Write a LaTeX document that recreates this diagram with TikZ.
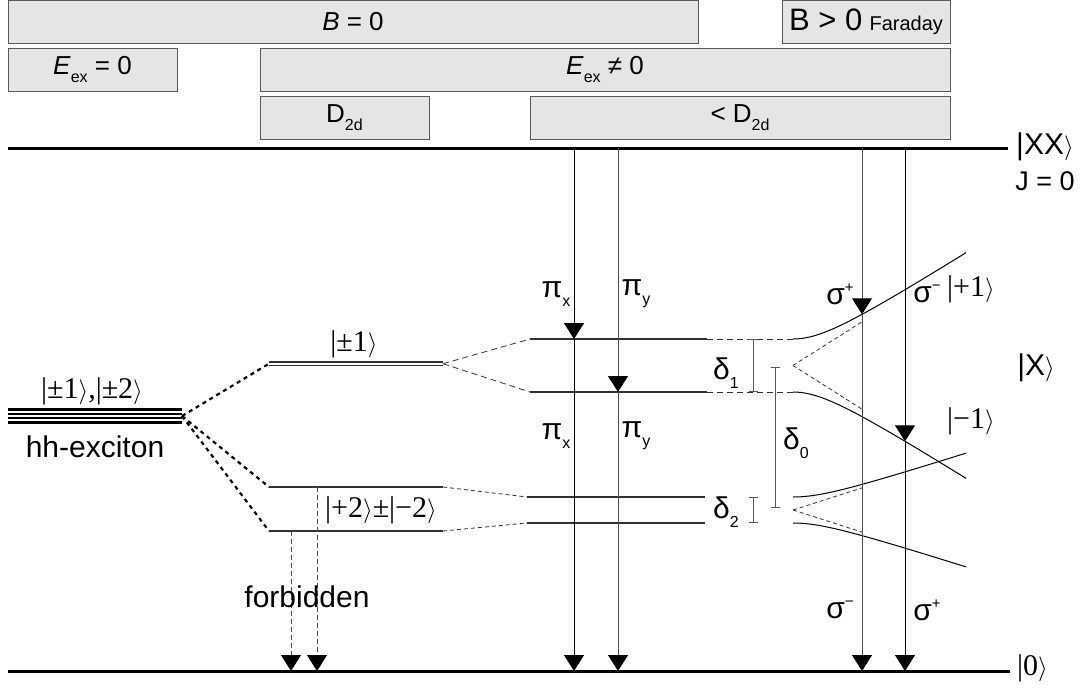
\documentclass[tikz,border=0pt]{standalone}
\usepackage{fontspec}
\setmainfont{Liberation Sans}
\newfontfamily\serifket{Liberation Serif}
\usetikzlibrary{arrows.meta}
\newcommand\lowtxt[1]{\raisebox{-0.55ex}{\fontsize{16}{16}\selectfont #1}}
\newcommand\hightxt[1]{\raisebox{0.75ex}{\fontsize{15}{15}\selectfont #1}}
\newcommand\myket[1]{{\serifket|#1}$\rangle$}
\tikzset{
  every node/.style={font=\fontsize{30}{34}\selectfont, inner sep=0pt},
  hdrbox/.style={draw=black!65, fill=black!10, line width=1pt, minimum height=43pt, font=\fontsize{26}{30}\selectfont},
  thickline/.style={line width=3pt},
  level/.style={line width=1.1pt, draw=black!80},
  hhline/.style={line width=2.2pt},
  dotcon/.style={line width=2.2pt, dash pattern=on 4pt off 4pt},
  dashcon/.style={line width=0.8pt, dash pattern=on 6pt off 4pt, draw=black!80},
  fdash/.style={line width=0.8pt, dash pattern=on 4pt off 3pt, draw=black!80},
  tiphead/.style={-{Triangle[width=20pt,length=16pt,color=black,fill=black]}},
  trans/.style={line width=1pt, tiphead},
  forb/.style={line width=0.9pt, dash pattern=on 5pt off 3pt, draw=black!70, tiphead},
  dbar/.style={line width=1pt, draw=black!65, {Bar[width=9pt]}-{Bar[width=9pt]}},
  curve/.style={line width=1pt},
}
\begin{document}
\begin{tikzpicture}[x=1pt,y=-1pt]
\useasboundingbox (0,0) rectangle (1084,688);
% header boxes
\node[hdrbox, minimum width=690pt] (bzero) at (353,21.5) {\textit{B} = 0};
\node[hdrbox, minimum width=168pt] (bfar) at (866,21.5) {{\fontsize{31}{31}\selectfont B > 0} {\fontsize{20}{20}\selectfont Faraday}};
\node[hdrbox, minimum width=169pt] (eex0) at (92.5,69.5) {\textit{E}\lowtxt{ex} = 0};
\node[hdrbox, minimum width=690pt] (eexn) at (605,69.5) {\textit{E}\lowtxt{ex} ≠ 0};
\node[hdrbox, minimum width=169pt] (d2d) at (344.5,117.5) {D\lowtxt{2d}};
\node[hdrbox, minimum width=420pt] (ld2d) at (740,117.5) {< D\lowtxt{2d}};
% biexciton and ground lines
\coordinate (xxL) at (8,148); \coordinate (xxR) at (1008,148);
\coordinate (gL) at (8,671); \coordinate (gR) at (1010,671);
\draw[thickline] (xxL) -- (xxR);
\draw[thickline] (gL) -- (gR);
\node[anchor=west] (xxlab) at (1016,147) {|XX$\rangle$};
\node[font=\fontsize{27}{30}\selectfont] (jlab) at (1045,181) {J = 0};
\node[anchor=west] (glab) at (1017,668) {\myket{0}};
% hh exciton
\foreach \yy in {409.5,413.8,418.1,422.4} \draw[hhline] (8,\yy) -- (182,\yy);
\coordinate (hh) at (182,416);
\node (hhtop) at (92,391) {{\serifket |±1$\rangle$,|±2$\rangle$}};
\node (hhlab) at (95,447) {hh-exciton};
% D2d levels
\coordinate (p1L) at (269,363.7); \coordinate (p1R) at (443,363.7);
\draw[level] (269,362) -- (443,362);
\draw[level] (269,365.5) -- (443,365.5);
\node (p1lab) at (354,344) {\myket{±1}};
\coordinate (d2aL) at (269,487); \coordinate (d2aR) at (443,487);
\coordinate (d2bL) at (269,531); \coordinate (d2bR) at (443,531);
\draw[level] (d2aL) -- (d2aR);
\draw[level] (d2bL) -- (d2bR);
\node (d2lab) at (381,510) {{\serifket |+2$\rangle$±|−2$\rangle$}};
\draw[dotcon] (hh) -- (p1L);
\draw[dotcon] (hh) -- (d2aL);
\draw[dotcon] (hh) -- (d2bL);
% lower symmetry levels
\coordinate (uaL) at (530,339); \coordinate (uaR) at (707,339); \coordinate (uaE) at (793,339);
\coordinate (ubL) at (530,392); \coordinate (ubR) at (707,392); \coordinate (ubE) at (793,392);
\coordinate (laL) at (527,497); \coordinate (laR) at (705,497);
\coordinate (lbL) at (527,523); \coordinate (lbR) at (705,523);
\draw[level] (uaL) -- (uaR);
\draw[level] (ubL) -- (ubR);
\draw[level] (laL) -- (laR);
\draw[level] (lbL) -- (lbR);
\draw[dashcon] (p1R) -- (uaL);
\draw[dashcon] (p1R) -- (ubL);
\draw[fdash] (d2aR) -- (laL);
\draw[fdash] (d2bR) -- (lbL);
\draw[dashcon] (uaR) -- (uaE);
\draw[dashcon] (ubR) -- (ubE);
% splittings
\coordinate (d1t) at (753,339); \coordinate (d1b) at (753,392);
\coordinate (d0t) at (775,367); \coordinate (d0b) at (775,508);
\coordinate (d2t) at (753,497); \coordinate (d2b) at (753,523);
\draw[dbar] (d1t) -- (d1b);
\draw[dbar] (d0t) -- (d0b);
\draw[dbar] (d2t) -- (d2b);
\node (dl1) at (726,373) {δ\lowtxt{1}};
\node (dl0) at (796,443) {δ\lowtxt{0}};
\node (dl2) at (726,512) {δ\lowtxt{2}};
% Zeeman curves
\coordinate (cu) at (793,365.5); \coordinate (cl) at (793,510);
\draw[curve] plot[domain=793:966, samples=60] (\x, {365.5-sqrt(26.5*26.5+(0.634*(\x-793))^2)});
\draw[curve] plot[domain=793:966, samples=60] (\x, {365.5+sqrt(26.5*26.5+(0.634*(\x-793))^2)});
\draw[curve] plot[domain=793:966, samples=60] (\x, {510-sqrt(13*13+(0.32*(\x-793))^2)});
\draw[curve] plot[domain=793:966, samples=60] (\x, {510+sqrt(13*13+(0.32*(\x-793))^2)});
\coordinate (au1) at (862,321.8); \coordinate (au2) at (862,409.2);
\coordinate (al1) at (862,487.9); \coordinate (al2) at (862,532.1);
\draw[fdash] (cu) -- (au1);
\draw[fdash] (cu) -- (au2);
\draw[fdash] (cl) -- (al1);
\draw[fdash] (cl) -- (al2);
\node (kp1) at (971,289) {\myket{+1}};
\node (kX) at (1036,368) {|X$\rangle$};
\node (km1) at (971,421) {\myket{−1}};
% transitions
\coordinate (pxT) at (574,148); \coordinate (pxM) at (574,339); \coordinate (pxB) at (574,671);
\coordinate (pyT) at (618,148); \coordinate (pyM) at (618,392); \coordinate (pyB) at (618,671);
\coordinate (spT) at (862,148); \coordinate (spM) at (862,314.3); \coordinate (spB) at (862,671);
\coordinate (smT) at (905,148); \coordinate (smM) at (905,441.3); \coordinate (smB) at (905,671);
\draw[trans] (pxT) -- (pxM);
\draw[trans] (pxM) -- (pxB);
\draw[trans, draw=black!70] (pyT) -- (pyM);
\draw[trans, draw=black!70] (pyM) -- (pyB);
\draw[trans, draw=black!70] (spT) -- (spM);
\draw[trans, draw=black!70] (spM) -- (spB);
\draw[trans] (smT) -- (smM);
\draw[trans] (smM) -- (smB);
\coordinate (f1T) at (291,531); \coordinate (f1B) at (291,671);
\coordinate (f2T) at (317,487); \coordinate (f2B) at (317,671);
\draw[forb] (f1T) -- (f1B);
\draw[forb] (f2T) -- (f2B);
\node (forbl) at (307,597) {forbidden};
% transition labels
\node (lpx1) at (556,294) {π\lowtxt{x}};
\node (lpy1) at (636,294) {π\lowtxt{y}};
\node (lpx2) at (556,436) {π\lowtxt{x}};
\node (lpy2) at (636,436) {π\lowtxt{y}};
\node (ls1) at (840,294) {σ\hightxt{+}};
\node (ls2) at (927,294) {σ\hightxt{−}};
\node (ls3) at (840,610) {σ\hightxt{−}};
\node (ls4) at (927,610) {σ\hightxt{+}};
\end{tikzpicture}
\end{document}
